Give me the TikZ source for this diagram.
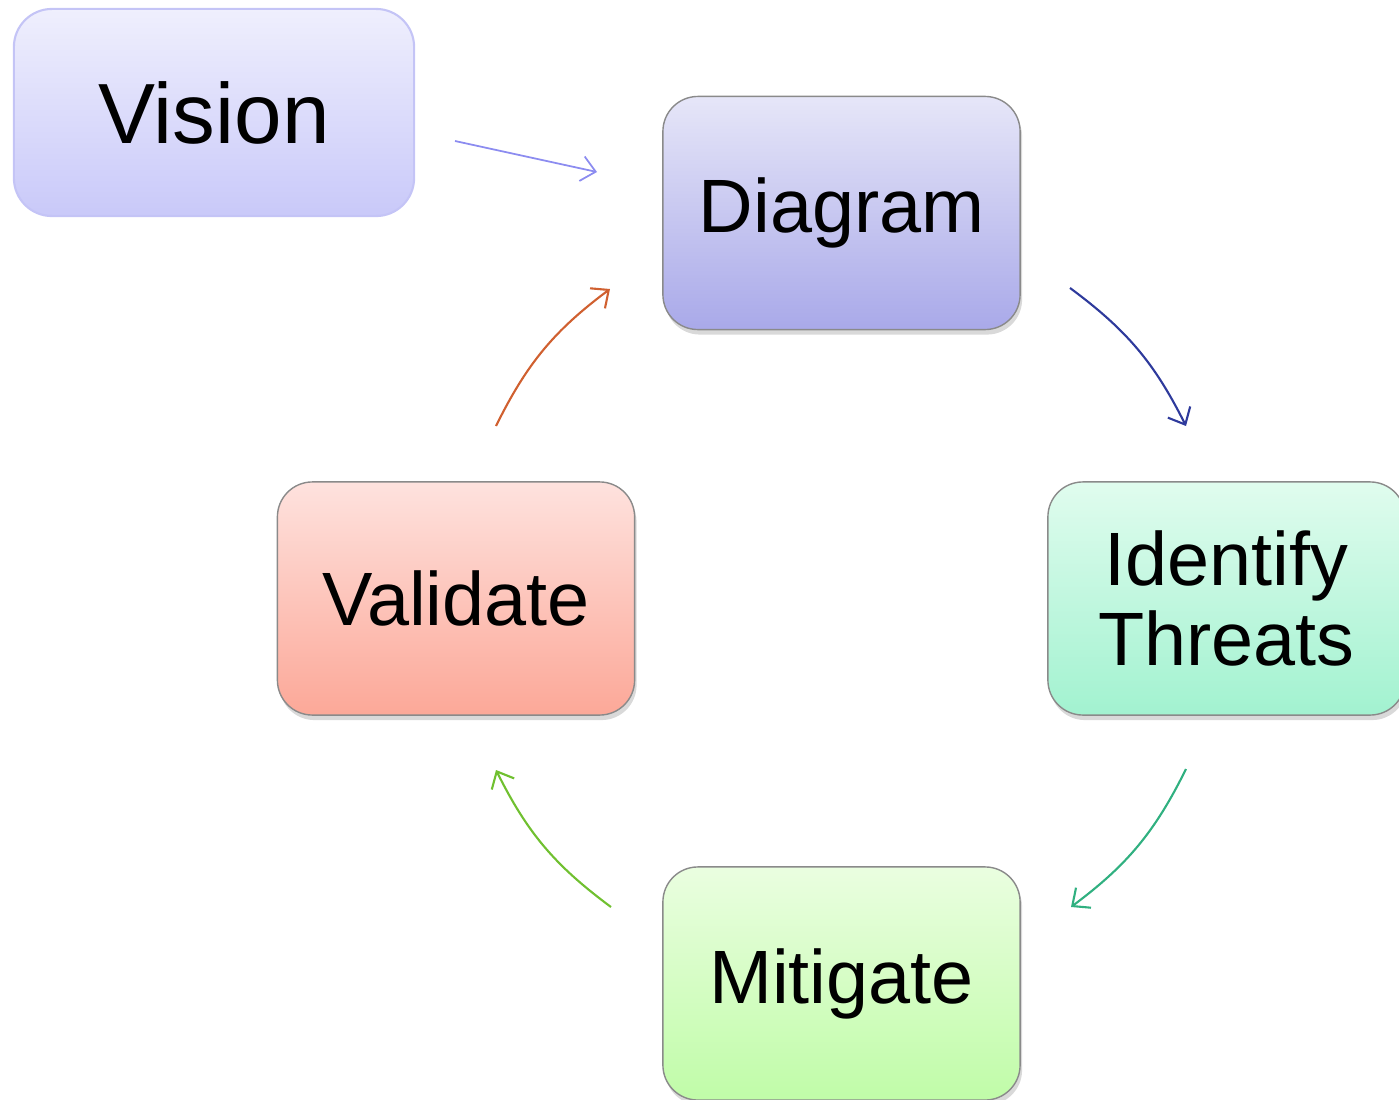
\documentclass[tikz,border=0pt]{standalone}
\usepackage{fontspec}
\setmainfont{Liberation Sans}
\usetikzlibrary{arrows.meta,shadows}

\definecolor{visionTop}{HTML}{EFEFFD}
\definecolor{visionBot}{HTML}{C9C9F9}
\definecolor{visionLine}{HTML}{C4C4F6}
\definecolor{diagTop}{HTML}{E6E6F8}
\definecolor{diagBot}{HTML}{A9A9E9}
\definecolor{identTop}{HTML}{E0FCEE}
\definecolor{identBot}{HTML}{A2F2D0}
\definecolor{mitTop}{HTML}{EAFEE0}
\definecolor{mitBot}{HTML}{C0FCA8}
\definecolor{valTop}{HTML}{FEE2DE}
\definecolor{valBot}{HTML}{FCA898}
\definecolor{boxLine}{HTML}{8A8A8A}
\definecolor{visionArrow}{HTML}{8C8CF0}
\definecolor{diagArrow}{HTML}{2E3A9C}
\definecolor{identArrow}{HTML}{30B080}
\definecolor{mitArrow}{HTML}{70C030}
\definecolor{valArrow}{HTML}{D06030}

\begin{document}
\begin{tikzpicture}[x=0.01cm, y=-0.01cm,
    stage/.style={rectangle, rounded corners=0.35cm, draw=boxLine, line width=0.4pt,
      minimum width=3.57cm, minimum height=2.33cm, align=center,
      font=\fontsize{21.5pt}{22.5pt}\selectfont,
      drop shadow={shadow xshift=0.2mm, shadow yshift=-0.5mm, opacity=0.3}},
    cycarrow/.style={line width=0.6pt, -{Straight Barb[length=1.4mm, width=2.5mm]}}]

    \useasboundingbox (0,0) rectangle (1399,1100);

    \node (v) [rectangle, rounded corners=0.38cm, draw=visionLine, line width=0.6pt,
      top color=visionTop, bottom color=visionBot, minimum width=4cm, minimum height=2.07cm,
      font=\fontsize{24.3pt}{25pt}\selectfont] at (214, 112.5) {Vision};
    \node (d) [stage, top color=diagTop, bottom color=diagBot] at (841.5, 213) {Diagram};
    \node (i) [stage, top color=identTop, bottom color=identBot] at (1226.5, 598.5) {Identify\\Threats};
    \node (m) [stage, top color=mitTop, bottom color=mitBot] at (841.5, 983.5) {Mitigate};
    \node (l) [stage, top color=valTop, bottom color=valBot] at (456, 598.5) {Validate};

    \coordinate (v1) at (455, 141);
    \coordinate (v2) at (597, 172);
    \coordinate (d1) at (1070, 288);
    \coordinate (d2) at (1186, 426);
    \coordinate (i1) at (1186, 769);
    \coordinate (i2) at (1071, 907);
    \coordinate (m1) at (611, 907);
    \coordinate (m2) at (496, 770);
    \coordinate (l1) at (496, 426);
    \coordinate (l2) at (610, 289);

    \draw [cycarrow, visionArrow, line width=0.5pt] (v1) to (v2);
    \draw [cycarrow, diagArrow] (d1) to[bend left=13.5] (d2);
    \draw [cycarrow, identArrow] (i1) to[bend left=13.5] (i2);
    \draw [cycarrow, mitArrow] (m1) to[bend left=13.5] (m2);
    \draw [cycarrow, valArrow] (l1) to[bend left=13.5] (l2);

\end{tikzpicture}
\end{document}
